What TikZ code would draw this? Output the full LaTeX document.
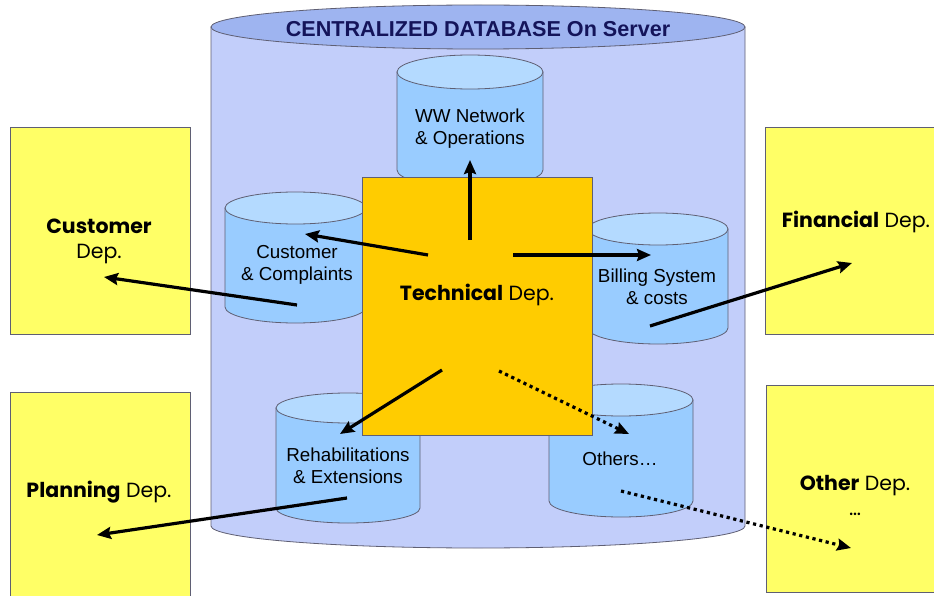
\documentclass[tikz,border=0pt]{standalone}
\usepackage{fontspec}
\setmainfont{Liberation Sans}
\newfontfamily\gothic{Poppins}
\usetikzlibrary{arrows.meta}
\definecolor{bigbody}{RGB}{194,206,250}
\definecolor{bigtop}{RGB}{158,180,240}
\definecolor{smallbody}{RGB}{153,204,255}
\definecolor{smalltop}{RGB}{180,218,255}
\definecolor{outl}{RGB}{95,95,115}
\definecolor{techfill}{RGB}{255,204,0}
\definecolor{depfill}{RGB}{255,255,102}
\definecolor{titlecol}{RGB}{20,20,90}
\newcommand\mydbcyl[5]{% xl, xr, ytop, ybot, ry
  \pgfmathsetmacro\cylcx{(#1+#2)/2}\pgfmathsetmacro\cylrx{(#2-#1)/2}
  \path[fill=smallbody,draw=outl,line width=0.8pt] (#1,-#3) -- (#1,-#4)
     arc[start angle=180,end angle=360,x radius=\cylrx,y radius=#5] -- (#2,-#3) -- cycle;
  \path[fill=smalltop,draw=outl,line width=0.8pt] (\cylcx,-#3) ellipse[x radius=\cylrx,y radius=#5];
}
\tikzset{
  dblabel/.style={font=\fontsize{18.8}{22}\selectfont,align=center,text=black},
  deplabel/.style={font=\gothic\fontsize{20.5}{25}\selectfont,align=center,text=black},
  depbox/.style={fill=depfill,draw=outl,line width=0.8pt},
  conn/.style={line width=3.2pt,-{Stealth[length=14pt,width=12pt,inset=2pt]}},
  dotconn/.style={line width=3.2pt,dash pattern=on 3.2pt off 3.6pt,-{Stealth[length=14pt,width=12pt,inset=2pt]}}
}
\begin{document}
\begin{tikzpicture}[x=1pt,y=1pt]
\useasboundingbox[fill=white] (0,0) rectangle (934,-596);
% big cylinder
\path[fill=bigbody,draw=outl,line width=0.8pt] (211,-27) -- (211,-526)
  arc[start angle=180,end angle=360,x radius=267,y radius=22] -- (745,-27) -- cycle;
\path[fill=bigtop,draw=outl,line width=0.8pt] (478,-27) ellipse[x radius=267,y radius=22];
\node[font=\bfseries\fontsize{21.6}{24}\selectfont,text=titlecol] (title) at (478,-29) {CENTRALIZED DATABASE On Server};
% small cylinders
\mydbcyl{397}{543}{72}{170}{17}
\mydbcyl{225}{366}{208}{307}{16}
\mydbcyl{588}{728}{229}{328}{16}
\mydbcyl{276}{420}{408}{508}{15}
\mydbcyl{549}{693}{400}{501}{16}
\node[dblabel] (ww) at (470,-129) {WW Network\\\& Operations};
% technical box
\node[fill=techfill,draw=outl,line width=0.8pt,minimum width=230pt,minimum height=258pt,inner sep=0pt] (tech) at (477.5,-306) {};
\node[deplabel] (techl) at (477,-295) {\textbf{Technical} Dep.};
\node[dblabel] (cc) at (297,-265) {Customer\\\& Complaints};
\node[dblabel] (bill) at (657,-287) {Billing System\\\& costs};
\node[dblabel] (rehab) at (348,-466) {Rehabilitations\\\& Extensions};
\node[dblabel] (oth) at (620,-459) {Others\dots};
% department boxes
\path[depbox] (10,-127) rectangle (190,-334);
\path[depbox] (765,-127) rectangle (945,-334);
\path[depbox] (10,-392) rectangle (190,-610);
\path[depbox] (766,-385) rectangle (945,-592);
\node[deplabel] (custdep) at (99,-241) {\textbf{Customer}\\Dep.};
\node[deplabel] (findep) at (856,-222) {\textbf{Financial} Dep.};
\node[deplabel] (plandep) at (99,-492) {\textbf{Planning} Dep.};
\node[deplabel] (othdep) at (855,-495) {\textbf{Other} Dep.\\\dots};
% connector end points
\coordinate (t-up) at (470,-240);
\coordinate (ww-in) at (470,-160);
\coordinate (t-left) at (428,-255);
\coordinate (cc-in) at (305,-234);
\coordinate (t-right) at (513,-255);
\coordinate (bill-in) at (651,-255);
\coordinate (t-dl) at (442,-370);
\coordinate (rehab-in) at (340,-434);
\coordinate (t-dr) at (499,-371);
\coordinate (oth-in) at (629,-434);
\coordinate (cc-out) at (297,-305);
\coordinate (custdep-in) at (104,-277);
\coordinate (bill-out) at (650,-326);
\coordinate (findep-in) at (852,-263);
\coordinate (rehab-out) at (347,-498);
\coordinate (plandep-in) at (97,-535);
\coordinate (oth-out) at (621,-491);
\coordinate (othdep-in) at (851,-548);
% connectors
\draw[conn] (t-up) -- (ww-in);
\draw[conn] (t-left) -- (cc-in);
\draw[conn] (t-right) -- (bill-in);
\draw[conn] (t-dl) -- (rehab-in);
\draw[dotconn] (t-dr) -- (oth-in);
\draw[conn] (cc-out) -- (custdep-in);
\draw[conn] (bill-out) -- (findep-in);
\draw[conn] (rehab-out) -- (plandep-in);
\draw[dotconn] (oth-out) -- (othdep-in);
\end{tikzpicture}
\end{document}
